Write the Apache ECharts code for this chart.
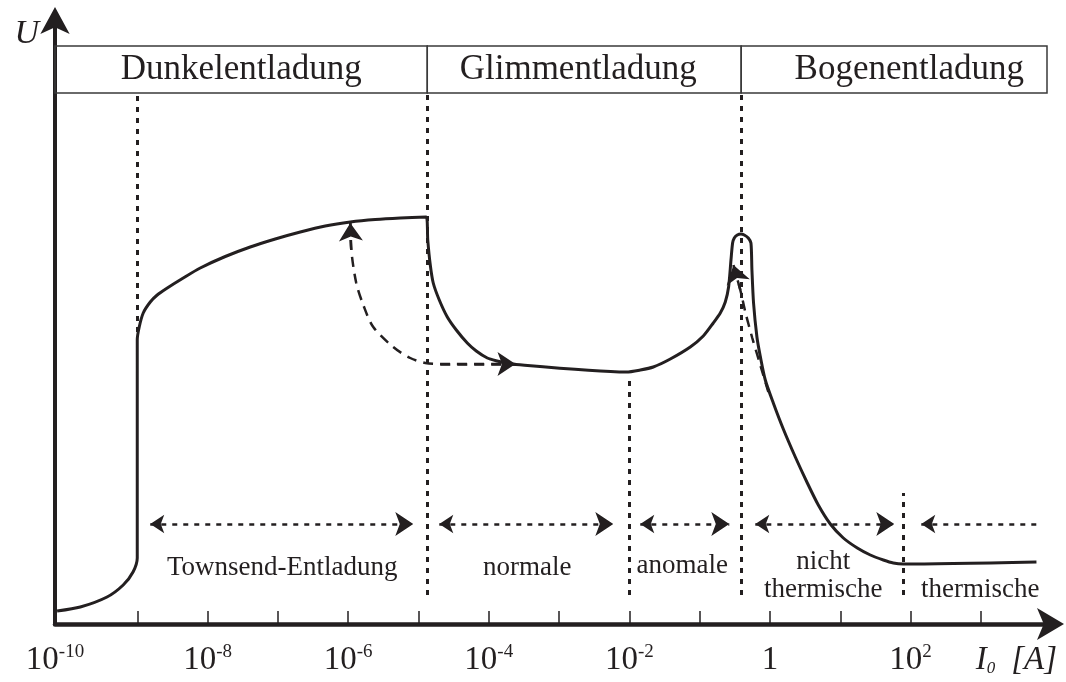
<!DOCTYPE html>
<html>
<head>
<meta charset="utf-8">
<script src="https://cdn.jsdelivr.net/npm/echarts@6/dist/echarts.min.js"></script>
<style>
html, body { margin: 0; padding: 0; background: #fff; }
#chart { width: 1066px; height: 682px; }
</style>
</head>
<body>
<div id="chart"></div>
<script>
// x: log10 of the current I0 [A]; y: discharge voltage U (arbitrary units)
const xMin = -10.17;
const xMax = 3.94;
const yMax = 60.4;

// decade ticks and the decades that carry a label
const tickDecades = [-9, -8, -7, -6, -5, -4, -3, -2, -1, 0, 1, 2, 3];
const labelDecades = [xMin, -8, -6, -4, -2, 0, 2];

// current–voltage characteristic of the gas discharge
const characteristic = [
  // dark (Townsend) discharge
  [-10.14, 1.3], [-9.81, 1.7], [-9.43, 2.7], [-9.2, 3.9], [-9.06, 5.2], [-9.0, 6.6],
  [-9.0, 28.4], [-8.972, 29.7], [-8.915, 31.1], [-8.815, 32.2], [-8.716, 32.9], [-8.573, 33.6],
  [-8.346, 34.6], [-8.104, 35.6], [-7.748, 36.75], [-7.393, 37.7], [-7.037, 38.5], [-6.681, 39.2],
  [-6.326, 39.8], [-5.97, 40.2], [-5.615, 40.45], [-5.259, 40.6], [-4.889, 40.7],
  // breakdown into the normal glow
  [-4.868, 38.4], [-4.832, 35.9], [-4.79, 34.1], [-4.704, 32.4], [-4.59, 30.7], [-4.462, 29.4],
  [-4.306, 28.1], [-4.178, 27.3], [-4.021, 26.6], [-3.879, 26.3], [-3.694, 26.0],
  [-2.044, 25.2],
  // abnormal glow up to the glow-to-arc transition
  [-1.845, 25.4], [-1.66, 25.7], [-1.418, 26.5], [-1.134, 27.7], [-0.949, 28.8], [-0.807, 30.1],
  [-0.707, 31.1], [-0.636, 32.2], [-0.589, 33.7], [-0.555, 36.4], [-0.532, 38.1], [-0.508, 38.6],
  [-0.465, 38.9], [-0.413, 39.0], [-0.366, 38.9], [-0.309, 38.6], [-0.271, 38.1], [-0.257, 35.4],
  [-0.234, 32.1], [-0.186, 28.7], [-0.139, 26.8],
  // arc discharge
  [-0.067, 24.4], [0.047, 22.1], [0.189, 19.5], [0.36, 16.7], [0.531, 14.1], [0.687, 11.9],
  [0.858, 10.0], [1.043, 8.6], [1.242, 7.6], [1.427, 6.9], [1.612, 6.4], [1.754, 6.1],
  [1.896, 6.0], [3.79, 6.2]
];

// jump from the Townsend discharge to the normal glow and back
const glowJump = [
  [-5.97, 40.1], [-5.956, 37.4], [-5.885, 34.1], [-5.785, 31.9], [-5.643, 29.7],
  [-5.359, 27.7], [-5.117, 26.6], [-4.903, 26.1], [-4.69, 26.0], [-3.62, 26.0]
];

// return path from the arc into the abnormal glow
const arcReturn = [
  [-0.024, 23.2], [-0.138, 25.9], [-0.252, 28.6], [-0.351, 31.2], [-0.422, 33.4], [-0.52, 35.9]
];

// boundaries of the discharge regimes: [x, yFrom, yTo]
const regimeBounds = [
  [-9.0, 29.2, 52.9],
  [-4.875, 2.9, 52.9],
  [-2.0, 2.9, 24.9],
  [-0.41, 2.9, 52.9],
  [1.9, 2.9, 13.1]
];

// double arrows spanning each regime: [xFrom, xTo]
const regimeSpans = [
  [-8.815, -5.074],
  [-4.704, -2.229],
  [-1.845, -0.579],
  [-0.209, 1.768]
];
const openSpan = [2.152, 3.859];
const spanLevel = 10.0;

// header cells of the three discharge types
const headerBottom = 53.1;
const headerTop = 57.8;
const headerCells = [
  { name: 'Dunkelentladung', from: xMin, to: -4.875, at: -7.521 },
  { name: 'Glimmentladung', from: -4.875, to: -0.41, at: -2.727 },
  { name: 'Bogenentladung', from: -0.41, to: xMax, at: 1.981 }
];

// names of the regimes below the curve
const regimeNames = [
  { name: 'Townsend-Entladung', at: [-6.937, 5.6] },
  { name: 'normale', at: [-3.452, 5.6] },
  { name: 'anomale', at: [-1.248, 5.8] },
  { name: 'nicht\nthermische', at: [0.758, 4.8] },
  { name: 'thermische', at: [2.991, 3.4] }
];

const ink = '#231f20';
const serif = '"Liberation Serif", "Times New Roman", serif';

const chart = echarts.init(document.getElementById('chart'));

const lastSegment = (pts) => [pts[pts.length - 2], pts[pts.length - 1]];
const firstSegment = (pts) => [pts[1], pts[0]];

chart.setOption({
  animation: false,
  backgroundColor: '#fff',
  grid: { left: 55, right: 19, top: 20, bottom: 58 },
  xAxis: {
    type: 'value',
    min: xMin,
    max: xMax,
    splitLine: { show: false },
    axisLine: {
      show: true,
      onZero: false,
      symbol: ['none', 'arrow'],
      symbolSize: [24, 27],
      symbolOffset: [0, 17],
      lineStyle: { color: ink, width: 4.5 }
    },
    axisTick: {
      show: true,
      inside: true,
      length: 13,
      customValues: tickDecades,
      lineStyle: { color: ink, width: 1.5 }
    },
    axisLabel: {
      show: true,
      customValues: labelDecades,
      margin: 19,
      formatter: (v) => {
        const e = Math.round(v);
        return e === 0 ? '{b|1}' : '{b|10}{s|' + e + '}';
      },
      rich: {
        b: { fontFamily: serif, fontSize: 33, color: ink, lineHeight: 34, verticalAlign: 'bottom' },
        s: { fontFamily: serif, fontSize: 19, color: ink, lineHeight: 19, verticalAlign: 'top' }
      }
    },
    name: '{i|I}{sub|0}{gap|}{t|[A]}',
    nameLocation: 'end',
    nameGap: 10,
    nameTextStyle: {
      align: 'right',
      verticalAlign: 'top',
      padding: [19, 0, 0, 0],
      rich: {
        i: { fontFamily: serif, fontStyle: 'italic', fontSize: 33, color: ink, lineHeight: 34, verticalAlign: 'bottom' },
        sub: { fontFamily: serif, fontStyle: 'italic', fontSize: 17, color: ink, lineHeight: 17, verticalAlign: 'bottom' },
        gap: { width: 16 },
        t: { fontFamily: serif, fontStyle: 'italic', fontSize: 33, color: ink, lineHeight: 34, verticalAlign: 'bottom' }
      }
    }
  },
  yAxis: {
    type: 'value',
    min: 0,
    max: yMax,
    splitLine: { show: false },
    axisTick: { show: false },
    axisLabel: { show: false },
    axisLine: {
      show: true,
      onZero: false,
      symbol: ['none', 'arrow'],
      symbolSize: [22, 27],
      symbolOffset: [0, 13],
      lineStyle: { color: ink, width: 4 }
    },
    name: 'U',
    nameLocation: 'end',
    nameGap: -31,
    nameTextStyle: {
      fontFamily: serif,
      fontStyle: 'italic',
      fontSize: 34,
      color: ink,
      align: 'right',
      verticalAlign: 'bottom',
      padding: [0, 16, 0, 0]
    }
  },
  series: [
    {
      type: 'line',
      data: characteristic,
      showSymbol: false,
      smooth: 0.25,
      lineStyle: { color: ink, width: 3 },
      z: 5,
      markArea: {
        silent: true,
        itemStyle: { color: 'rgba(0,0,0,0)', borderColor: '#3a3a3a', borderWidth: 1.5 },
        label: { show: false },
        data: headerCells.map(c => [
          { xAxis: c.from, yAxis: headerBottom },
          { xAxis: c.to, yAxis: headerTop }
        ])
      }
    },
    {
      type: 'line',
      data: glowJump,
      showSymbol: false,
      smooth: 0.3,
      lineStyle: { color: ink, width: 2.5, type: [10, 7] },
      z: 4
    },
    {
      type: 'line',
      data: arcReturn,
      showSymbol: false,
      smooth: 0.3,
      lineStyle: { color: ink, width: 2.5, type: [10, 7] },
      z: 4
    },
    {
      // arrowheads at the ends of the dashed transitions
      type: 'lines',
      coordinateSystem: 'cartesian2d',
      symbol: ['none', 'arrow'],
      symbolSize: [14, 18],
      lineStyle: { color: ink, width: 2.5, opacity: 1, type: [10, 7] },
      z: 6,
      data: [
        { coords: firstSegment(glowJump) },
        { coords: lastSegment(glowJump) },
        { coords: lastSegment(arcReturn) }
      ]
    },
    {
      // dotted regime boundaries
      type: 'lines',
      coordinateSystem: 'cartesian2d',
      symbol: ['none', 'none'],
      lineStyle: { color: ink, width: 3, opacity: 1, type: [5, 6] },
      z: 3,
      data: regimeBounds.map(b => ({ coords: [[b[0], b[1]], [b[0], b[2]]] }))
    },
    {
      type: 'lines',
      coordinateSystem: 'cartesian2d',
      symbol: ['arrow', 'arrow'],
      symbolSize: [14, 18],
      lineStyle: { color: ink, width: 2.5, opacity: 1, type: [5, 6] },
      z: 3,
      data: regimeSpans.map(s => ({ coords: [[s[0], spanLevel], [s[1], spanLevel]] }))
    },
    {
      type: 'lines',
      coordinateSystem: 'cartesian2d',
      symbol: ['arrow', 'none'],
      symbolSize: [14, 18],
      lineStyle: { color: ink, width: 2.5, opacity: 1, type: [5, 6] },
      z: 3,
      data: [{ coords: [[openSpan[0], spanLevel], [openSpan[1], spanLevel]] }]
    },
    {
      // text of the header cells and regime names
      type: 'scatter',
      silent: true,
      symbolSize: 1,
      itemStyle: { color: 'rgba(0,0,0,0)', opacity: 1 },
      z: 7,
      label: {
        show: true,
        position: 'inside',
        color: ink,
        opacity: 1,
        fontFamily: serif,
        formatter: (p) => p.name
      },
      data: [
        ...headerCells.map(c => ({
          name: c.name,
          value: [c.at, (headerBottom + headerTop) / 2],
          label: { fontSize: 35 }
        })),
        ...regimeNames.map(r => ({
          name: r.name,
          value: r.at,
          label: { fontSize: 27, lineHeight: 28 }
        }))
      ]
    }
  ]
});
</script>
</body>
</html>
